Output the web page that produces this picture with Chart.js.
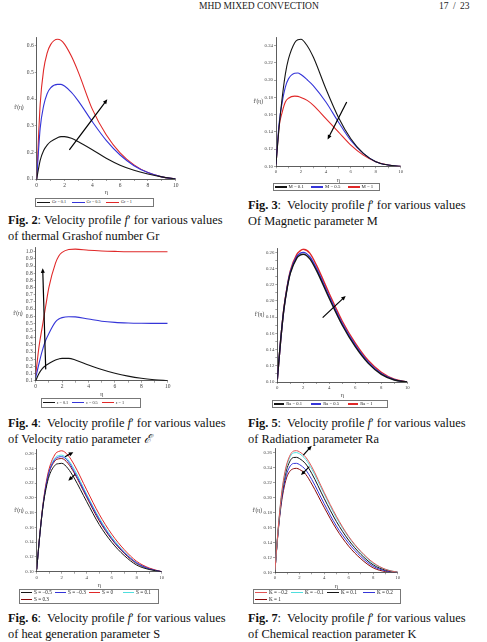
<!DOCTYPE html>
<html>
<head>
<meta charset="utf-8">
<script src="https://cdn.jsdelivr.net/npm/chart.js@4.4.1/dist/chart.umd.min.js"></script>
<style>
body { margin: 0; width: 487px; height: 642px; background: #fff; position: relative; overflow: hidden; font-family: 'Liberation Serif', serif; color: #111; }
.abs { position: absolute; }
.head { position: absolute; top: 1px; font-size: 9.5px; color: #222; }
.cap { position: absolute; font-size: 12.4px; line-height: 16px; white-space: nowrap; }
.ytitle { position: absolute; width: 24px; text-align: right; font-size: 5.5px; color: #333; }
.legend { position: absolute; border: 1px solid #777; box-sizing: border-box; display: flex; flex-wrap: wrap; align-content: center; padding: 0 0 0 1px; color: #222; }
.legend .item { display: inline-flex; align-items: center; white-space: nowrap; flex-shrink: 0; }
.legend .item:last-child { width: auto !important; }
.legend i { display: inline-block; height: 0; margin-right: 2px; }
</style>
</head>
<body>
<div class="head" style="left:199px">MHD MIXED CONVECTION</div>
<div class="head" style="left:439px;word-spacing:2px">17 / 23</div>

<div class="cap" style="left:8px;top:212px"><b>Fig. 2</b>: Velocity profile <i>f</i>′ for various values<br>of thermal Grashof number Gr</div>
<div class="cap" style="left:248px;top:197px"><b>Fig. 3</b>:&nbsp; Velocity profile <i>f</i>′ for various values<br>Of Magnetic parameter M</div>
<div class="cap" style="left:8px;top:415px"><b>Fig. 4</b>:&nbsp; Velocity profile <i>f</i>′ for various values<br>of Velocity ratio parameter <i>ℰ</i></div>
<div class="cap" style="left:248px;top:415px"><b>Fig. 5</b>:&nbsp; Velocity profile <i>f</i>′ for various values<br>of Radiation parameter Ra</div>
<div class="cap" style="left:8px;top:610px"><b>Fig. 6</b>:&nbsp; Velocity profile <i>f</i>′ for various values<br>of heat generation parameter S</div>
<div class="cap" style="left:248px;top:610px"><b>Fig. 7</b>:&nbsp; Velocity profile <i>f</i>′ for various values<br>of Chemical reaction parameter K</div>

<script>
// similarity variable, shared by every figure
const eta = [0, 0.25, 0.5, 0.75, 1, 1.5, 1.75, 2, 2.5, 3, 4, 5, 6, 7, 8, 9, 10];
const etaTicks = [0, 2, 4, 6, 8, 10];

// Fig 2 - Grashof number
const grLabels = ['Gr = 0.1', 'Gr = 0.5', 'Gr = 1'];
const grLow  = [0.1, 0.17, 0.207, 0.227, 0.24, 0.255, 0.259, 0.259, 0.253, 0.24, 0.21, 0.178, 0.152, 0.133, 0.119, 0.108, 0.1];
const grMid  = [0.1, 0.29, 0.375, 0.42, 0.442, 0.455, 0.455, 0.449, 0.425, 0.392, 0.315, 0.245, 0.19, 0.15, 0.124, 0.108, 0.1];
const grHigh = [0.1, 0.38, 0.51, 0.572, 0.604, 0.624, 0.62, 0.606, 0.56, 0.5, 0.362, 0.266, 0.198, 0.153, 0.124, 0.108, 0.1];
const grTicks = [0.1, 0.2, 0.3, 0.4, 0.5, 0.6];
const grArrow = [[2.35, 0.209, 5.08, 0.399]];

// Fig 3 - magnetic parameter
const mLabels = ['M = 0.1', 'M = 0.5', 'M = 1'];
const mLow  = [0.102, 0.146, 0.18, 0.207, 0.2246, 0.2435, 0.247, 0.2475, 0.24, 0.2265, 0.19, 0.157, 0.132, 0.115, 0.1054, 0.1015, 0.1];
const mMid  = [0.102, 0.15, 0.1746, 0.192, 0.2015, 0.208, 0.2083, 0.2065, 0.2005, 0.1935, 0.1746, 0.1515, 0.13, 0.115, 0.1054, 0.1015, 0.1];
const mHigh = [0.102, 0.146, 0.163, 0.1746, 0.179, 0.1815, 0.1812, 0.18, 0.1765, 0.1708, 0.1554, 0.14, 0.1246, 0.113, 0.1054, 0.1015, 0.1];
const mTicks = [0.10, 0.12, 0.14, 0.16, 0.18, 0.20, 0.22, 0.24];
const mArrow = [[5.67, 0.1746, 4.14, 0.1312]];

// Fig 4 - velocity ratio
const epsLabels = ['ε = 0.1', 'ε = 0.5', 'ε = 1'];
const epsLow  = [0.1, 0.15, 0.184, 0.205, 0.22, 0.245, 0.252, 0.256, 0.256, 0.245, 0.21, 0.178, 0.152, 0.132, 0.117, 0.107, 0.1];
const epsMid  = [0.12, 0.22, 0.31, 0.38, 0.43, 0.51, 0.53, 0.54, 0.546, 0.545, 0.53, 0.515, 0.507, 0.503, 0.501, 0.5, 0.5];
const epsHigh = [0.14, 0.337, 0.477, 0.616, 0.751, 0.92, 0.97, 0.995, 1.015, 1.018, 1.01, 1.005, 1.002, 1.0, 1.0, 1.0, 1.0];
const epsTicks = [0.1, 0.2, 0.3, 0.4, 0.5, 0.6, 0.7, 0.8, 0.9, 1.0];
const epsArrow = [[0.76, 0.179, 0.53, 0.884]];

// Fig 5 - radiation parameter
const raLabels = ['Ra = 0.1', 'Ra = 0.5', 'Ra = 1'];
const raLow  = [0.103, 0.15, 0.189, 0.215, 0.234, 0.253, 0.2565, 0.2576, 0.252, 0.238, 0.203, 0.17, 0.1436, 0.123, 0.1095, 0.1025, 0.1];
const raMid  = [0.103, 0.15, 0.189, 0.216, 0.2355, 0.255, 0.2588, 0.26, 0.2545, 0.2405, 0.2055, 0.172, 0.1455, 0.1245, 0.1105, 0.103, 0.1];
const raHigh = [0.103, 0.15, 0.19, 0.217, 0.237, 0.2575, 0.2618, 0.2638, 0.259, 0.2445, 0.209, 0.175, 0.148, 0.1265, 0.112, 0.1035, 0.1];
const raTicks = [0.10, 0.12, 0.14, 0.16, 0.18, 0.20, 0.22, 0.24, 0.26];
const raArrow = [[3.49, 0.1794, 5.26, 0.2062]];

// Fig 6 - heat generation
const sLabels = ['S = −0.5', 'S = −0.3', 'S = 0', 'S = 0.1', 'S = 0.3'];
const sM05 = [0.103, 0.15, 0.188, 0.213, 0.23, 0.245, 0.2465, 0.247, 0.24, 0.227, 0.195, 0.164, 0.14, 0.122, 0.109, 0.103, 0.1];
const sM03 = [0.103, 0.15, 0.189, 0.217, 0.236, 0.253, 0.2555, 0.256, 0.25, 0.236, 0.203, 0.171, 0.145, 0.126, 0.112, 0.104, 0.1];
const sZero = [0.103, 0.151, 0.191, 0.22, 0.24, 0.26, 0.263, 0.264, 0.258, 0.245, 0.211, 0.178, 0.151, 0.13, 0.114, 0.105, 0.1];
const sP01 = [0.103, 0.15, 0.19, 0.218, 0.237, 0.255, 0.2575, 0.258, 0.252, 0.239, 0.205, 0.173, 0.147, 0.127, 0.112, 0.104, 0.1];
const sP03 = [0.103, 0.15, 0.189, 0.216, 0.235, 0.251, 0.253, 0.2535, 0.247, 0.234, 0.201, 0.169, 0.144, 0.125, 0.111, 0.104, 0.1];
const sTicks = [0.10, 0.12, 0.14, 0.16, 0.18, 0.20, 0.22, 0.24, 0.26];
const sArrows = [[2.27, 0.256, 2.93, 0.262], [3.07, 0.232, 2.53, 0.2234]];

// Fig 7 - chemical reaction
const kLabels = ['K = −0.2', 'K = −0.1', 'K = 0.1', 'K = 0.2', 'K = 1'];
const kM02 = [0.103, 0.157, 0.2, 0.229, 0.247, 0.262, 0.2626, 0.261, 0.254, 0.241, 0.207, 0.175, 0.148, 0.128, 0.113, 0.104, 0.1];
const kM01 = [0.103, 0.156, 0.199, 0.227, 0.245, 0.2595, 0.26, 0.2585, 0.251, 0.238, 0.205, 0.173, 0.147, 0.127, 0.112, 0.104, 0.1];
const kP01 = [0.103, 0.155, 0.196, 0.223, 0.24, 0.2535, 0.2537, 0.252, 0.245, 0.232, 0.199, 0.168, 0.143, 0.124, 0.11, 0.103, 0.1];
const kP02 = [0.103, 0.154, 0.193, 0.218, 0.234, 0.2455, 0.2457, 0.244, 0.237, 0.224, 0.192, 0.162, 0.139, 0.121, 0.108, 0.102, 0.1];
const kP1  = [0.103, 0.153, 0.19, 0.214, 0.229, 0.2385, 0.239, 0.2375, 0.231, 0.218, 0.187, 0.158, 0.135, 0.118, 0.106, 0.101, 0.1];
const kTicks = [0.10, 0.12, 0.14, 0.16, 0.18, 0.20, 0.22, 0.24, 0.26];
const kArrows = [[2.31, 0.2568, 2.99, 0.2693], [2.8, 0.2412, 2.12, 0.23]];

const BLACK = '#151515', BLUE = '#3535d8', RED = '#e02828', CYAN = '#4fdede', DARKRED = '#8a0a0a', PINK = '#e25454';

// legend: [left, top, width, height, item width, line length, line thickness, font size]
const figures = [
    { box: [36.7, 175.7, 179, 37.7], y: [0.1, 0.63, 0.1, 1], ticks: grTicks, font: 5.5, minor: false,
      series: [[grLabels[0], grLow, BLACK], [grLabels[1], grMid, BLUE], [grLabels[2], grHigh, RED]], width: 1.1,
      arrows: grArrow, legend: [35, 198, 119, 8.5, 34.5, 13, 1, 4.2] },
    { box: [276, 400.7, 166.3, 37.1], y: [0.1, 0.25, 0.02, 2], ticks: mTicks, font: 4.8, minor: false,
      series: [[mLabels[0], mLow, BLACK], [mLabels[1], mMid, BLUE], [mLabels[2], mHigh, RED]], width: 1.1,
      arrows: mArrow, legend: [272.5, 183, 107, 8, 36.5, 12, 2, 4.8] },
    { box: [35.7, 167.7, 380.7, 247.4], y: [0.1, 1.03, 0.1, 1], ticks: epsTicks, font: 5.5, minor: true,
      series: [[epsLabels[0], epsLow, BLACK], [epsLabels[1], epsMid, BLUE], [epsLabels[2], epsHigh, RED]], width: 1.1,
      arrows: epsArrow, legend: [40.7, 397.5, 100, 10, 29.5, 12, 1, 4.2] },
    { box: [277.3, 407.3, 382, 248.3], y: [0.1, 0.265, 0.02, 2], ticks: raTicks, font: 4.8, minor: true,
      series: [[raLabels[0], raLow, BLACK], [raLabels[1], raMid, BLUE], [raLabels[2], raHigh, RED]], width: 1.4,
      arrows: raArrow, legend: [272.3, 399.8, 116, 8, 37, 10, 2, 4.6] },
    { box: [36.7, 161.7, 571.7, 449.3], y: [0.1, 0.266, 0.02, 2], ticks: sTicks, font: 4.8, minor: false,
      series: [[sLabels[0], sM05, BLACK], [sLabels[1], sM03, BLUE], [sLabels[2], sZero, RED], [sLabels[3], sP01, CYAN], [sLabels[4], sP03, DARKRED]], width: 1,
      arrows: sArrows, legend: [19, 588.5, 140, 15.5, 34, 11, 1, 5.2] },
    { box: [275, 397.7, 572.3, 448.9], y: [0.1, 0.265, 0.02, 2], ticks: kTicks, font: 4.8, minor: false,
      series: [[kLabels[0], kM02, PINK], [kLabels[1], kM01, CYAN], [kLabels[2], kP01, BLACK], [kLabels[3], kP02, BLUE], [kLabels[4], kP1, DARKRED]], width: 1,
      arrows: kArrows, legend: [253, 588.5, 148, 15.5, 36, 12, 1, 5.2] }
];

function arrowPlugin(list) {
    return {
        id: 'arrows',
        afterDatasetsDraw(chart) {
            const ctx = chart.ctx, xs = chart.scales.x, ys = chart.scales.y;
            ctx.save();
            ctx.strokeStyle = '#000';
            ctx.fillStyle = '#000';
            ctx.lineWidth = 1.2;
            list.forEach(a => {
                const x1 = xs.getPixelForValue(a[0]), y1 = ys.getPixelForValue(a[1]);
                const x2 = xs.getPixelForValue(a[2]), y2 = ys.getPixelForValue(a[3]);
                const ang = Math.atan2(y2 - y1, x2 - x1), h = 5;
                ctx.beginPath();
                ctx.moveTo(x1, y1);
                ctx.lineTo(x2 - Math.cos(ang) * h * 0.7, y2 - Math.sin(ang) * h * 0.7);
                ctx.stroke();
                ctx.beginPath();
                ctx.moveTo(x2, y2);
                ctx.lineTo(x2 - h * Math.cos(ang - 0.42), y2 - h * Math.sin(ang - 0.42));
                ctx.lineTo(x2 - h * Math.cos(ang + 0.42), y2 - h * Math.sin(ang + 0.42));
                ctx.closePath();
                ctx.fill();
            });
            ctx.restore();
        }
    };
}

function drawFigure(fig) {
    const [axisX, right, axisY, top] = fig.box;
    const [yMin, yMax, yStep, dec] = fig.y;
    const left = Math.floor(axisX - 28), canvasTop = Math.floor(top - 6);
    const width = Math.ceil(right + 6) - left, height = Math.ceil(axisY + 17) - canvasTop;

    const canvas = document.createElement('canvas');
    canvas.width = width;
    canvas.height = height;
    canvas.className = 'abs';
    canvas.style.left = left + 'px';
    canvas.style.top = canvasTop + 'px';
    document.body.appendChild(canvas);

    const yLabels = fig.ticks.map(v => v.toFixed(dec));
    const tickFont = { family: 'Liberation Serif', size: fig.font };

    new Chart(canvas.getContext('2d'), {
        type: 'line',
        data: {
            datasets: fig.series.map(s => ({
                label: s[0],
                data: eta.map((x, i) => ({ x: x, y: s[1][i] })),
                borderColor: s[2],
                borderWidth: fig.width,
                pointRadius: 0,
                fill: false,
                cubicInterpolationMode: 'monotone'
            }))
        },
        options: {
            responsive: false,
            animation: false,
            devicePixelRatio: 1,
            layout: { padding: { top: top - canvasTop, right: left + width - right, left: 0, bottom: 0 } },
            plugins: { legend: { display: false }, tooltip: { enabled: false } },
            scales: {
                x: {
                    type: 'linear', min: 0, max: 10,
                    afterFit: sc => { sc.height = canvasTop + height - axisY; },
                    ticks: {
                        stepSize: 1, autoSkip: false, maxRotation: 0, padding: 1, color: '#444', font: tickFont,
                        callback: v => etaTicks.includes(v) ? String(v) : ''
                    },
                    grid: { drawOnChartArea: false, drawTicks: true, tickLength: 2, color: '#666', lineWidth: 0.6 },
                    border: { display: true, color: '#333', width: 0.8 },
                    title: { display: true, text: 'η', font: { family: 'Liberation Serif', size: 6 }, color: '#333', padding: 0 }
                },
                y: {
                    type: 'linear', min: yMin, max: yMax,
                    afterFit: sc => { sc.width = axisX - left; },
                    ticks: {
                        stepSize: fig.minor ? yStep / 2 : yStep, includeBounds: false, autoSkip: false, padding: 1,
                        color: '#444', font: tickFont,
                        callback: v => { const s = v.toFixed(dec); return yLabels.includes(s) ? s : ''; }
                    },
                    grid: { drawOnChartArea: false, drawTicks: true, tickLength: 2, color: '#666', lineWidth: 0.6 },
                    border: { display: true, color: '#333', width: 0.8 }
                }
            }
        },
        plugins: [arrowPlugin(fig.arrows)]
    });

    // horizontal axis title on the left, as in the source plots
    const yt = document.createElement('div');
    yt.className = 'ytitle';
    yt.style.left = (axisX - 13 - 24) + 'px';
    yt.style.top = ((top + axisY) / 2 - 4) + 'px';
    yt.textContent = 'f′(η)';
    document.body.appendChild(yt);

    const [lx, ly, lw, lh, itemW, lineW, thick, fs] = fig.legend;
    const box = document.createElement('div');
    box.className = 'legend';
    box.style.left = lx + 'px';
    box.style.top = ly + 'px';
    box.style.width = lw + 'px';
    box.style.height = lh + 'px';
    box.style.fontSize = fs + 'px';
    box.style.lineHeight = (fs + 1.8) + 'px';
    fig.series.forEach(s => {
        const item = document.createElement('span');
        item.className = 'item';
        item.style.width = itemW + 'px';
        item.innerHTML = `<i style="width:${lineW}px;border-top:${thick}px solid ${s[2]}"></i>${s[0]}`;
        box.appendChild(item);
    });
    document.body.appendChild(box);
}

figures.forEach(drawFigure);
</script>
</body>
</html>
